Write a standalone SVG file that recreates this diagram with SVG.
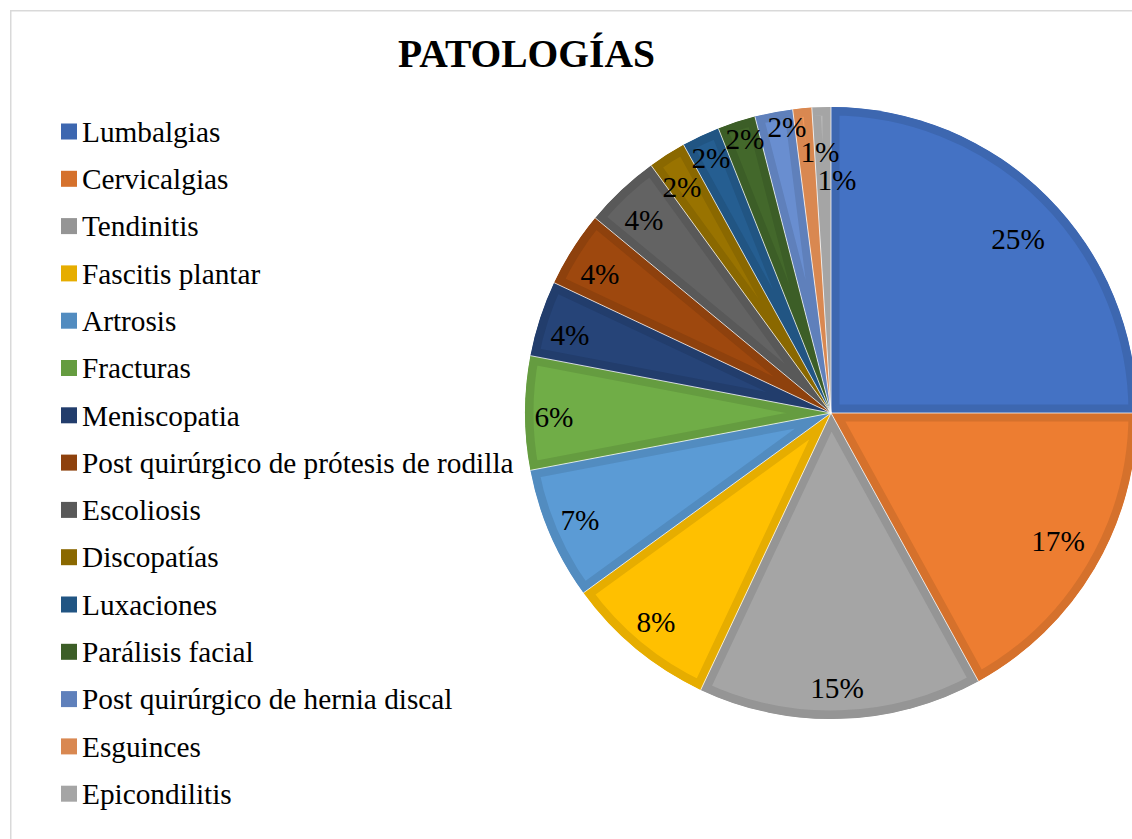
<svg xmlns="http://www.w3.org/2000/svg" xmlns:xlink="http://www.w3.org/1999/xlink" width="1132" height="839" viewBox="0 0 1132 839">
<style>
  .title{font-family:"Liberation Serif","Times New Roman",serif;font-weight:bold;font-size:39.5px;fill:#000;}
  .leg{font-family:"Liberation Serif","Times New Roman",serif;font-size:29.3px;fill:#000;}
  .pct{font-family:"Liberation Serif","Times New Roman",serif;font-size:29.3px;fill:#000;text-anchor:middle;}
  .sl{stroke-width:17;}
  .sep{stroke:#ffffff;stroke-width:1;stroke-opacity:0.75;fill:none;}
</style>
<defs>
  <path id="p1" d="M831,413 L831,107 A306,306 0 0 1 1137,413 Z"/>
  <path id="p2" d="M831,413 L1137,413 A306,306 0 0 1 978.42,681.15 Z"/>
  <path id="p3" d="M831,413 L978.42,681.15 A306,306 0 0 1 700.71,689.88 Z"/>
  <path id="p4" d="M831,413 L700.71,689.88 A306,306 0 0 1 583.44,592.86 Z"/>
  <path id="p5" d="M831,413 L583.44,592.86 A306,306 0 0 1 530.42,470.34 Z"/>
  <path id="p6" d="M831,413 L530.42,470.34 A306,306 0 0 1 530.42,355.66 Z"/>
  <path id="p7" d="M831,413 L530.42,355.66 A306,306 0 0 1 554.12,282.71 Z"/>
  <path id="p8" d="M831,413 L554.12,282.71 A306,306 0 0 1 595.22,217.95 Z"/>
  <path id="p9" d="M831,413 L595.22,217.95 A306,306 0 0 1 651.14,165.44 Z"/>
  <path id="p10" d="M831,413 L651.14,165.44 A306,306 0 0 1 683.58,144.85 Z"/>
  <path id="p11" d="M831,413 L683.58,144.85 A306,306 0 0 1 718.36,128.49 Z"/>
  <path id="p12" d="M831,413 L718.36,128.49 A306,306 0 0 1 754.90,116.61 Z"/>
  <path id="p13" d="M831,413 L754.90,116.61 A306,306 0 0 1 792.65,109.41 Z"/>
  <path id="p14" d="M831,413 L792.65,109.41 A306,306 0 0 1 811.79,107.60 Z"/>
  <path id="p15" d="M831,413 L811.79,107.60 A306,306 0 0 1 831,107 Z"/>
  <clipPath id="c1"><use xlink:href="#p1"/></clipPath>
  <clipPath id="c2"><use xlink:href="#p2"/></clipPath>
  <clipPath id="c3"><use xlink:href="#p3"/></clipPath>
  <clipPath id="c4"><use xlink:href="#p4"/></clipPath>
  <clipPath id="c5"><use xlink:href="#p5"/></clipPath>
  <clipPath id="c6"><use xlink:href="#p6"/></clipPath>
  <clipPath id="c7"><use xlink:href="#p7"/></clipPath>
  <clipPath id="c8"><use xlink:href="#p8"/></clipPath>
  <clipPath id="c9"><use xlink:href="#p9"/></clipPath>
  <clipPath id="c10"><use xlink:href="#p10"/></clipPath>
  <clipPath id="c11"><use xlink:href="#p11"/></clipPath>
  <clipPath id="c12"><use xlink:href="#p12"/></clipPath>
  <clipPath id="c13"><use xlink:href="#p13"/></clipPath>
  <clipPath id="c14"><use xlink:href="#p14"/></clipPath>
  <clipPath id="c15"><use xlink:href="#p15"/></clipPath>
</defs>
<rect x="0" y="0" width="1132" height="839" fill="#ffffff"/>
<g id="chart-border" fill="none" stroke="#d9d9d9" stroke-width="1.5">
  <path d="M10.75,839 L10.75,10.75 L1132,10.75"/>
</g>
<text id="title" class="title" x="526.5" y="67" text-anchor="middle">PATOLOGÍAS</text>

<g id="pie">
  <g id="slice-lumbalgias"><use xlink:href="#p1" class="sl" fill="#4472C4" stroke="#3D67B0" clip-path="url(#c1)"/></g>
  <g id="slice-cervicalgias"><use xlink:href="#p2" class="sl" fill="#ED7D31" stroke="#D5712C" clip-path="url(#c2)"/></g>
  <g id="slice-tendinitis"><use xlink:href="#p3" class="sl" fill="#A5A5A5" stroke="#959595" clip-path="url(#c3)"/></g>
  <g id="slice-fascitis"><use xlink:href="#p4" class="sl" fill="#FFC000" stroke="#E6AD00" clip-path="url(#c4)"/></g>
  <g id="slice-artrosis"><use xlink:href="#p5" class="sl" fill="#5B9BD5" stroke="#528CC0" clip-path="url(#c5)"/></g>
  <g id="slice-fracturas"><use xlink:href="#p6" class="sl" fill="#70AD47" stroke="#659C40" clip-path="url(#c6)"/></g>
  <g id="slice-meniscopatia"><use xlink:href="#p7" class="sl" fill="#264478" stroke="#223D6C" clip-path="url(#c7)"/></g>
  <g id="slice-protesis"><use xlink:href="#p8" class="sl" fill="#9E480E" stroke="#8E410D" clip-path="url(#c8)"/></g>
  <g id="slice-escoliosis"><use xlink:href="#p9" class="sl" fill="#636363" stroke="#595959" clip-path="url(#c9)"/></g>
  <g id="slice-discopatias"><use xlink:href="#p10" class="sl" fill="#997300" stroke="#8A6800" clip-path="url(#c10)"/></g>
  <g id="slice-luxaciones"><use xlink:href="#p11" class="sl" fill="#255E91" stroke="#215583" clip-path="url(#c11)"/></g>
  <g id="slice-paralisis"><use xlink:href="#p12" class="sl" fill="#43682B" stroke="#3C5E27" clip-path="url(#c12)"/></g>
  <g id="slice-hernia"><use xlink:href="#p13" class="sl" fill="#698ED0" stroke="#5F80BB" clip-path="url(#c13)"/></g>
  <g id="slice-esguinces"><use xlink:href="#p14" class="sl" fill="#F1975A" stroke="#D98851" clip-path="url(#c14)"/></g>
  <g id="slice-epicondilitis"><use xlink:href="#p15" class="sl" fill="#B7B7B7" stroke="#A5A5A5" clip-path="url(#c15)"/></g>
</g>
<g id="connectors" class="sep">
  <path d="M831,413 L831,107 M831,413 L1137,413 M831,413 L978.42,681.15 M831,413 L700.71,689.88 M831,413 L583.44,592.86 M831,413 L530.42,470.34 M831,413 L530.42,355.66 M831,413 L554.12,282.71 M831,413 L595.22,217.95 M831,413 L651.14,165.44 M831,413 L683.58,144.85 M831,413 L718.36,128.49 M831,413 L754.90,116.61 M831,413 L792.65,109.41 M831,413 L811.79,107.60"/>
</g>
<g id="data-labels">
  <text class="pct" x="1018" y="249">25%</text>
  <text class="pct" x="1058" y="551">17%</text>
  <text class="pct" x="837" y="698">15%</text>
  <text class="pct" x="656" y="632">8%</text>
  <text class="pct" x="580" y="530">7%</text>
  <text class="pct" x="554" y="427">6%</text>
  <text class="pct" x="570" y="345">4%</text>
  <text class="pct" x="600" y="284">4%</text>
  <text class="pct" x="644" y="230">4%</text>
  <text class="pct" x="682" y="197">2%</text>
  <text class="pct" x="711" y="168">2%</text>
  <text class="pct" x="745" y="149">2%</text>
  <text class="pct" x="787" y="137">2%</text>
  <text class="pct" x="820" y="162">1%</text>
  <text class="pct" x="837" y="190">1%</text>
</g>
<g id="legend">
  <g id="leg1"><rect x="61" y="123.5" width="16" height="16" fill="#3D67B0"/><text class="leg" x="82" y="141.7">Lumbalgias</text></g>
  <g id="leg2"><rect x="61" y="170.8" width="16" height="16" fill="#D5712C"/><text class="leg" x="82" y="189">Cervicalgias</text></g>
  <g id="leg3"><rect x="61" y="218.1" width="16" height="16" fill="#959595"/><text class="leg" x="82" y="236.3">Tendinitis</text></g>
  <g id="leg4"><rect x="61" y="265.4" width="16" height="16" fill="#E6AD00"/><text class="leg" x="82" y="283.6">Fascitis plantar</text></g>
  <g id="leg5"><rect x="61" y="312.7" width="16" height="16" fill="#528CC0"/><text class="leg" x="82" y="330.9">Artrosis</text></g>
  <g id="leg6"><rect x="61" y="360" width="16" height="16" fill="#659C40"/><text class="leg" x="82" y="378.2">Fracturas</text></g>
  <g id="leg7"><rect x="61" y="407.3" width="16" height="16" fill="#223D6C"/><text class="leg" x="82" y="425.5">Meniscopatia</text></g>
  <g id="leg8"><rect x="61" y="454.6" width="16" height="16" fill="#8E410D"/><text class="leg" x="82" y="472.8">Post quirúrgico de prótesis de rodilla</text></g>
  <g id="leg9"><rect x="61" y="501.9" width="16" height="16" fill="#595959"/><text class="leg" x="82" y="520.1">Escoliosis</text></g>
  <g id="leg10"><rect x="61" y="549.2" width="16" height="16" fill="#8A6800"/><text class="leg" x="82" y="567.4">Discopatías</text></g>
  <g id="leg11"><rect x="61" y="596.5" width="16" height="16" fill="#215583"/><text class="leg" x="82" y="614.7">Luxaciones</text></g>
  <g id="leg12"><rect x="61" y="643.8" width="16" height="16" fill="#3C5E27"/><text class="leg" x="82" y="662">Parálisis facial</text></g>
  <g id="leg13"><rect x="61" y="691.1" width="16" height="16" fill="#5F80BB"/><text class="leg" x="82" y="709.3">Post quirúrgico de hernia discal</text></g>
  <g id="leg14"><rect x="61" y="738.4" width="16" height="16" fill="#D98851"/><text class="leg" x="82" y="756.6">Esguinces</text></g>
  <g id="leg15"><rect x="61" y="785.7" width="16" height="16" fill="#A5A5A5"/><text class="leg" x="82" y="803.9">Epicondilitis</text></g>
</g>
</svg>
